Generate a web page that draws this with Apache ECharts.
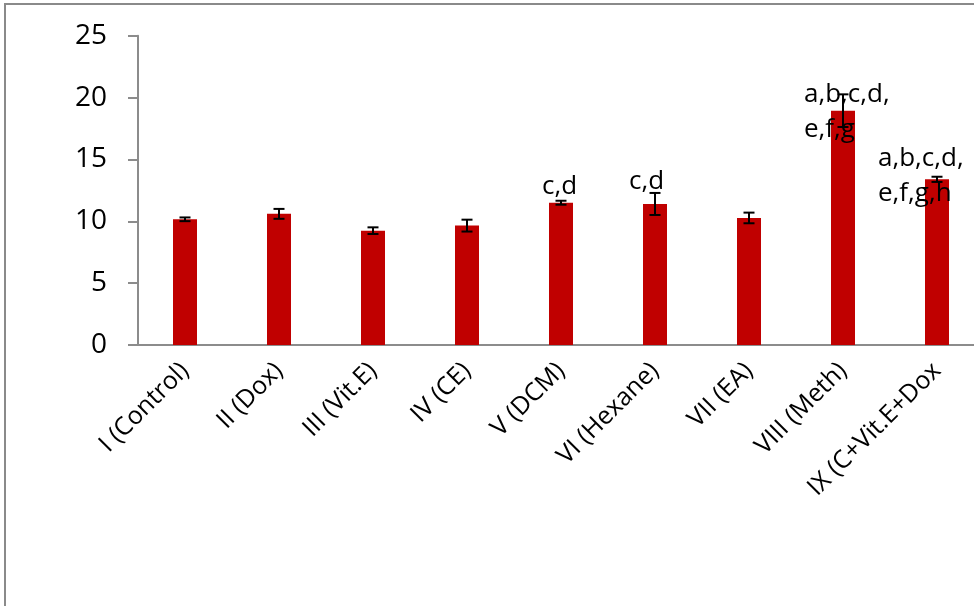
<!DOCTYPE html>
<html>
<head>
<meta charset="utf-8">
<script src="https://cdn.jsdelivr.net/npm/echarts@6/dist/echarts.min.js"></script>
<style>
  html, body { margin: 0; padding: 0; background: #ffffff; }
  #chart { width: 974px; height: 606px; }
</style>
</head>
<body>
<div id="chart"></div>
<script>
// Groups, mean values, error (± SD) and significance letters
const categories = ['I (Control)', 'II (Dox)', 'III (Vit.E)', 'IV (CE)', 'V (DCM)',
  'VI (Hexane)', 'VII (EA)', 'VIII (Meth)', 'IX (C+Vit.E+Dox'];
const means = [10.16, 10.6, 9.24, 9.65, 11.5, 11.4, 10.27, 18.94, 13.39];
const errors = [0.15, 0.4, 0.27, 0.48, 0.16, 0.89, 0.43, 1.32, 0.21];
const letters = ['', '', '', '', 'c,d', 'c,d', '', 'a,b,c,d,\ne,f,g', 'a,b,c,d,\ne,f,g,h'];
const yTicks = { min: 0, max: 25, step: 5 };

// label offsets from the top-centre of each bar
const letterOffsets = [null, null, null, null, [-19, -34], [-26, -40], null, [-39, -34], [-59, -38]];

const FONT = 'Open Sans';

const barData = means.map((v, i) => {
  const item = { value: v };
  if (letters[i]) {
    item.label = {
      show: true,
      position: 'top',
      distance: 0,
      align: 'left',
      verticalAlign: 'top',
      offset: letterOffsets[i],
      formatter: letters[i],
      fontFamily: FONT,
      fontSize: 26,
      lineHeight: 35,
      color: '#000'
    };
  }
  return item;
});

const errData = means.map((v, i) => [i, v - errors[i], v + errors[i]]);

const chart = echarts.init(document.getElementById('chart'), null, { renderer: 'canvas' });

chart.setOption({
  backgroundColor: '#ffffff',
  animation: false,
  graphic: [{
    type: 'rect',
    shape: { x: 5, y: 4, width: 1100, height: 800 },
    style: { fill: 'none', stroke: '#8a8a8a', lineWidth: 2 },
    silent: true,
    z: 0
  }],
  // plot area runs past the right edge of the canvas
  grid: { left: 138, width: 846, top: 35.7, bottom: 261, outerBoundsMode: 'none', containLabel: false },
  xAxis: {
    type: 'category',
    data: categories,
    axisLine: { show: true, lineStyle: { color: '#8c8c8c', width: 2 } },
    axisTick: { show: false },
    axisLabel: {
      rotate: 45,
      interval: 0,
      margin: 22,
      fontFamily: FONT,
      fontSize: 25,
      color: '#000'
    }
  },
  yAxis: {
    type: 'value',
    min: yTicks.min,
    max: yTicks.max,
    interval: yTicks.step,
    axisLine: { show: true, lineStyle: { color: '#8c8c8c', width: 2 } },
    axisTick: { show: true, length: 10, lineStyle: { color: '#8c8c8c', width: 2 } },
    splitLine: { show: false },
    axisLabel: {
      margin: 31,
      fontFamily: FONT,
      fontSize: 28,
      color: '#000'
    }
  },
  series: [
    {
      type: 'bar',
      data: barData,
      barWidth: 24,
      itemStyle: { color: '#c00000' },
      z: 2
    },
    {
      type: 'custom',
      data: errData,
      z: 5,
      renderItem: function (params, api) {
        const x = api.value(0);
        const lo = api.coord([x, api.value(1)]);
        const hi = api.coord([x, api.value(2)]);
        const half = 5.5;
        const style = { stroke: '#000', lineWidth: 2 };
        return {
          type: 'group',
          children: [
            { type: 'line', shape: { x1: lo[0], y1: lo[1], x2: hi[0], y2: hi[1] }, style: style },
            { type: 'line', shape: { x1: lo[0] - half, y1: lo[1], x2: lo[0] + half, y2: lo[1] }, style: style },
            { type: 'line', shape: { x1: hi[0] - half, y1: hi[1], x2: hi[0] + half, y2: hi[1] }, style: style }
          ]
        };
      }
    }
  ]
});
</script>
</body>
</html>
